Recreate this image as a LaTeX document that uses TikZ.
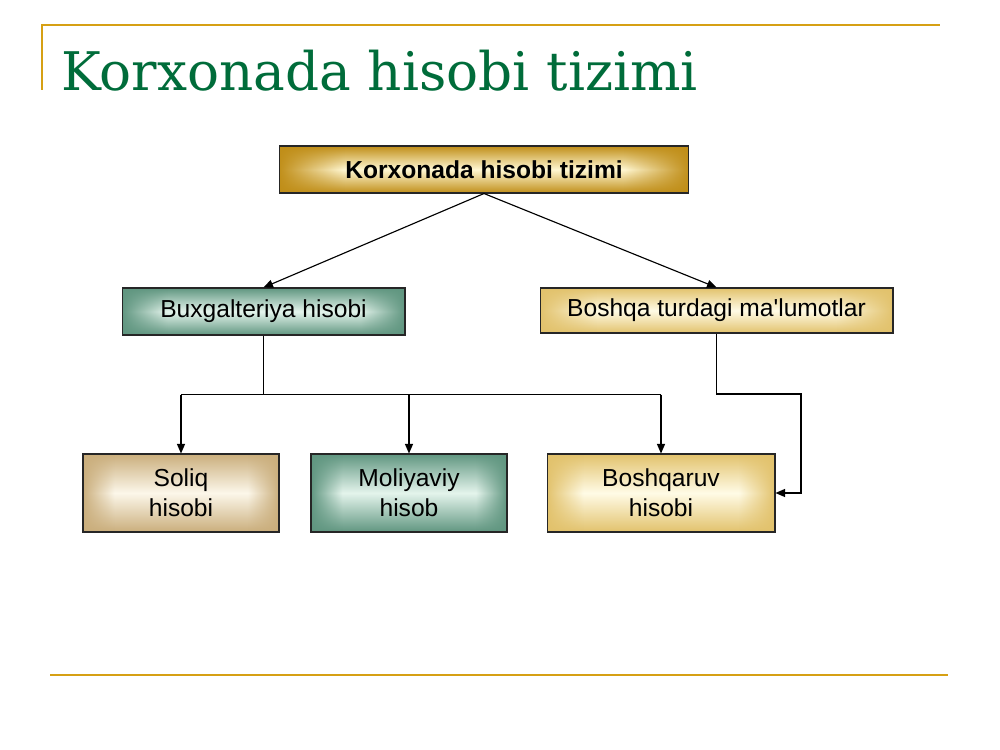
\documentclass[tikz,border=0pt]{standalone}
\usepackage{fontspec}
\setsansfont{Liberation Sans}
\newfontfamily\titlefont{DejaVu Serif}
\usetikzlibrary{arrows.meta, fadings}

\definecolor{titlegreen}{RGB}{0,108,58}
\definecolor{rulegold}{RGB}{214,160,20}
\definecolor{goldedge}{RGB}{192,142,24}
\definecolor{goldlight}{RGB}{255,247,210}
\definecolor{greenedge}{RGB}{96,150,128}
\definecolor{greenlight}{RGB}{228,244,236}
\definecolor{sandedge}{RGB}{226,194,108}
\definecolor{sandlight}{RGB}{255,251,230}
\definecolor{tanedge}{RGB}{202,174,124}
\definecolor{tanlight}{RGB}{252,247,234}

\pgfdeclarehorizontalshading{sideglow}{100bp}{color(0bp)=(white); color(25bp)=(white); color(33bp)=(black); color(67bp)=(black); color(75bp)=(white); color(100bp)=(white)}
\tikzfading[name=sidefade, shade, shading=sideglow]

\begin{document}
\begin{tikzpicture}[x=0.02cm, y=-0.02cm, >={Triangle[length=1.9mm, width=1.6mm]},
  box/.style={draw=black!85, line width=0.6pt, rectangle, inner sep=0pt, align=center,
    font=\sffamily\fontsize{14}{17}\selectfont},
  glow/.style 2 args={top color=#1, bottom color=#1, middle color=#2,
    path picture={\fill[#1, path fading=sidefade] (path picture bounding box.south west)
      rectangle (path picture bounding box.north east);}},
  goldbox/.style={box, glow={goldedge}{goldlight}},
  greenbox/.style={box, glow={greenedge}{greenlight}},
  sandbox/.style={box, glow={sandedge}{sandlight}},
  tanbox/.style={box, glow={tanedge}{tanlight}},
  link/.style={line width=0.65pt}]
  \useasboundingbox (0,0) rectangle (1000,750);

  % frame and title
  \draw[rulegold, line width=1.2pt] (42,90) -- (42,25) -- (940,25);
  \draw[rulegold, line width=1.2pt] (50,675) -- (948,675);
  \node[anchor=base west, inner sep=0pt, text=titlegreen,
    font=\titlefont\fontsize{30.3}{36}\selectfont] (title) at (61,91) {Korxonada hisobi tizimi};

  % boxes
  \node[goldbox, minimum width=8.2cm, minimum height=0.94cm, font=\sffamily\bfseries\fontsize{14}{17}\selectfont]
    (system) at (484,169.5) {Korxonada hisobi tizimi};
  \node[greenbox, minimum width=5.66cm, minimum height=0.94cm] (buxg) at (263.5,311.5) {Buxgalteriya hisobi};
  \node[sandbox, minimum width=7.06cm, minimum height=0.9cm] (other) at (716.5,310.5) {Boshqa turdagi ma\textquotesingle lumotlar};
  \node[tanbox, minimum width=3.92cm, minimum height=1.56cm] (soliq) at (181,493) {Soliq\\hisobi};
  \node[greenbox, minimum width=3.92cm, minimum height=1.56cm] (moliya) at (409,493) {Moliyaviy\\hisob};
  \node[sandbox, minimum width=4.56cm, minimum height=1.56cm] (boshq) at (661,493) {Boshqaruv\\hisobi};

  % connectors
  \path[->, link]
    (system.south) edge (buxg.north)
    (system.south) edge (other.north);
  \path (buxg.south) ++(0,59) coordinate (bus);
  \coordinate (turn) at (801,394);
  \draw[link] (buxg.south) -- (bus);
  \draw[link] (soliq.north |- bus) -- (boshq.north |- bus);
  \foreach \n in {soliq, moliya, boshq}
    \draw[->, link] (\n.north |- bus) -- (\n.north);
  \draw[->, link] (other.south) |- (turn) |- (boshq.east);
\end{tikzpicture}
\end{document}
